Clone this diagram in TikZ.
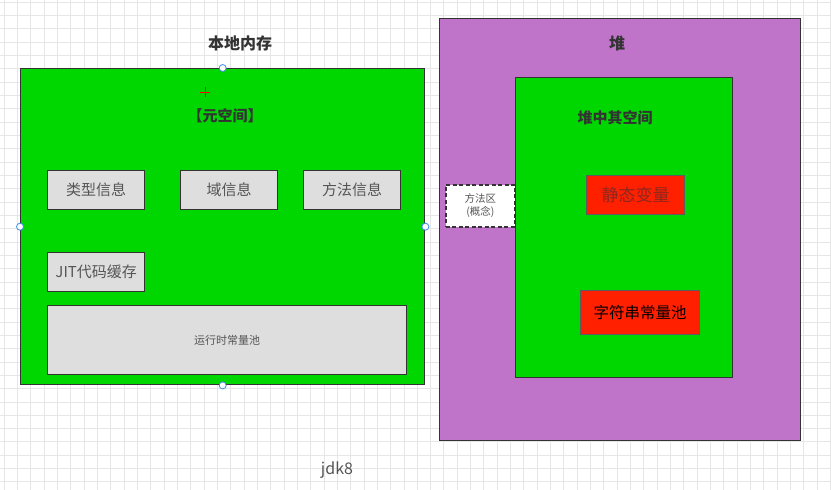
\documentclass[tikz,border=0pt]{standalone}
\usepackage{fontspec}
\setmainfont{Noto Sans CJK SC}
\usetikzlibrary{positioning}
\definecolor{memgreen}  {RGB}{0,214,0}
\definecolor{heappurple}{RGB}{191,115,201}
\definecolor{poolred}   {RGB}{255,32,0}
\definecolor{infogray}  {RGB}{222,222,222}
\definecolor{edgegray}  {RGB}{51,51,51}
\definecolor{textgray}  {RGB}{85,85,85}
\definecolor{gridgray}  {RGB}{230,230,230}
\definecolor{handleblue}{RGB}{60,140,230}
\definecolor{darkred}   {RGB}{140,40,30}
\tikzset{
  area/.style={rectangle,draw=edgegray,line width=1.4pt,fill=#1,
               anchor=north west,inner sep=0pt},
  area/.default=memgreen,
  infobox/.style={rectangle,draw=edgegray,line width=1.4pt,fill=infogray,
                  text=textgray,minimum width=97pt,minimum height=39pt,
                  font=\fontsize{15}{18}\selectfont,anchor=north west,inner sep=0pt},
  redbox/.style={rectangle,draw=edgegray!80,line width=1.4pt,fill=poolred,
                 anchor=north west,inner sep=0pt},
  title/.style={font=\bfseries\fontsize{16}{19}\selectfont,text=edgegray},
  handle/.style={circle,draw=handleblue,fill=white,line width=0.8pt,
                 inner sep=0pt,minimum size=7pt},
}
\begin{document}
\begin{tikzpicture}[x=1pt,y=-1pt]
  \useasboundingbox (0,0) rectangle (831,490);
  \fill[white] (0,0) rectangle (831,490);
  % grid
  \foreach \gx in {4,17.33,...,831}
    \draw[gridgray,line width=0.8pt] (\gx,0) -- (\gx,490);
  \foreach \gy in {2,15.33,...,490}
    \draw[gridgray,line width=0.8pt] (0,\gy) -- (831,\gy);

  % local memory
  \node[title] (localtitle) at (240,43) {本地内存};
  \node[area, minimum width=404pt, minimum height=316pt] (local) at (20,68) {};
  \node[font=\bfseries\fontsize{15}{18}\selectfont, text=edgegray] (meta) at (225,116) {【元空间】};
  \node[infobox] (typeinfo)  at (47,170)  {类型信息};
  \node[infobox] (fieldinfo) at (180,170) {域信息};
  \node[infobox] (methinfo)  at (303,170) {方法信息};
  \node[infobox] (jitcache)  at (47,252)  {JIT代码缓存};
  \node[infobox, minimum width=359pt, minimum height=69pt,
        font=\fontsize{11}{13}\selectfont] (rtpool) at (47,305) {运行时常量池};

  % heap
  \node[area=heappurple, minimum width=361pt, minimum height=422pt] (heap) at (439,18) {};
  \node[title] (heaptitle) at (617,43) {堆};
  \node[area, minimum width=217pt, minimum height=300pt] (heapspace) at (515,77) {};
  \node[font=\bfseries\fontsize{15}{18}\selectfont, text=edgegray] (heapspacetitle) at (615,118) {堆中其空间};
  \node[redbox, minimum width=98pt, minimum height=39pt, text=darkred,
        font=\fontsize{17}{20}\selectfont] (staticvar) at (586,175) {静态变量};
  \node[redbox, minimum width=119pt, minimum height=44pt, text=black,
        font=\fontsize{15.5}{18}\selectfont] (strpool) at (580,290) {字符串常量池};

  % method area (concept)
  \node[rectangle, draw=edgegray, dash pattern=on 4pt off 2.5pt, line width=1.8pt,
        fill=white, minimum width=69pt, minimum height=42pt, anchor=north west,
        inner sep=0pt, align=center, text=textgray,
        font=\fontsize{10.5}{13}\selectfont] (methodarea)
        at (445,184) {方法区\\(概念)};

  \node[text=textgray, font=\fontsize{16}{19}\selectfont] (jdk) at (337,470) {jdk8};

  % selection handles
  \foreach \side in {north,south,west,east}
    \node[handle] at (local.\side) {};
  \draw[red,line width=1pt] (200,92) -- (210,92) (205,87) -- (205,97);
\end{tikzpicture}
\end{document}
